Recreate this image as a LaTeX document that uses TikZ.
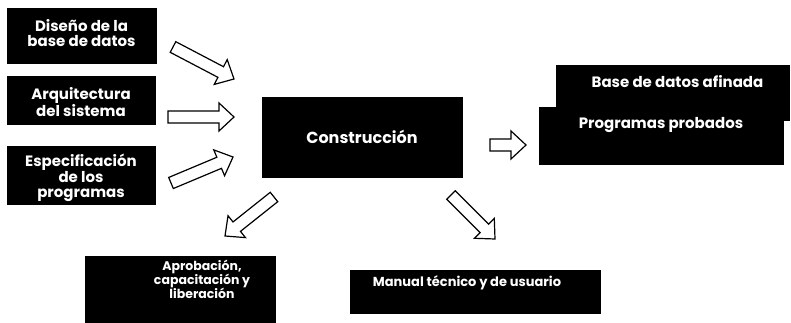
\documentclass[tikz,border=0pt]{standalone}
\usepackage{fontspec}
\setmainfont{Poppins}
\usetikzlibrary{calc}

\tikzset{
  caja/.style={fill=black, draw=black, inner sep=0pt},
  texto/.style={text=white, font=\bfseries\fontsize{15}{15}\selectfont, align=center, inner sep=0pt},
  flecha/.style={draw=black, line width=1.2pt, fill=white},
}

% flecha hueca de #1 a #2
\newcommand\flechahueca[2]{%
  \coordinate (cuello) at ($(#2)!15pt!(#1)$);
  \draw[flecha] ($(#1)!6pt!90:(#2)$) -- ($(cuello)!6pt!90:(#2)$) -- ($(cuello)!14pt!90:(#2)$)
    -- (#2) -- ($(cuello)!14pt!-90:(#2)$) -- ($(cuello)!6pt!-90:(#2)$) -- ($(#1)!6pt!-90:(#2)$) -- cycle;}

\begin{document}
\begin{tikzpicture}[x=1pt, y=-1pt]
\useasboundingbox (0,0) rectangle (791,323);

% entradas
\node[caja, minimum width=149pt, minimum height=55pt] (diseno) at (81.5,35.5) {};
\node[texto] (diseno-t) at ([yshift=2pt]diseno.center) {Diseño de la\\base de datos};
\node[caja, minimum width=148pt, minimum height=48pt] (arquitectura) at (81,100) {};
\node[texto] (arquitectura-t) at ([yshift=-2pt]arquitectura.center) {Arquitectura\\del sistema};
\node[caja, minimum width=148pt, minimum height=58pt] (especificacion) at (81,175) {};
\node[texto] (especificacion-t) at ([yshift=-3pt]especificacion.center) {Especificación\\de los\\programas};

\node[caja, minimum width=200pt, minimum height=80pt] (construccion) at (362,137) {};
\node[texto, font=\bfseries\fontsize{16}{16}\selectfont] (construccion-t) at (construccion.center) {Construcción};

% salidas
\node[caja, minimum width=233pt, minimum height=55pt] (basedatos) at (672.5,92.5) {};
\node[texto] (basedatos-t) at ([xshift=5pt, yshift=-17pt]basedatos.north) {Base de datos afinada};
\node[caja, minimum width=244pt, minimum height=57pt] (programas) at (661,135.5) {};
\node[texto] (programas-t) at ([yshift=-18pt]programas.north) {Programas probados};
\node[caja, minimum width=190pt, minimum height=66pt] (aprobacion) at (180,289) {};
\node[texto, font=\bfseries\fontsize{12.5}{14}\selectfont] (aprobacion-t) at ([xshift=22pt, yshift=10pt]aprobacion.center) {Aprobación,\\capacitación y\\liberación};
\node[caja, minimum width=250pt, minimum height=43pt] (manual) at (475,291.5) {};
\node[texto, font=\bfseries\fontsize{13}{15}\selectfont] (manual-t) at ([xshift=-8pt, yshift=-13pt]manual.north) {Manual técnico y de usuario};

% flechas
\coordinate (f1a) at (173,47);  \coordinate (f1b) at (234,79);
\coordinate (f2a) at (168,117); \coordinate (f2b) at (234,117);
\coordinate (f3a) at (171,183); \coordinate (f3b) at (233,157);
\coordinate (f4a) at (274,197); \coordinate (f4b) at (225,236);
\coordinate (f5a) at (451,195); \coordinate (f5b) at (495,239);
\coordinate (f6a) at (490,145); \coordinate (f6b) at (526,145);
\flechahueca{f1a}{f1b}
\flechahueca{f2a}{f2b}
\flechahueca{f3a}{f3b}
\flechahueca{f4a}{f4b}
\flechahueca{f5a}{f5b}
\flechahueca{f6a}{f6b}
\end{tikzpicture}
\end{document}
